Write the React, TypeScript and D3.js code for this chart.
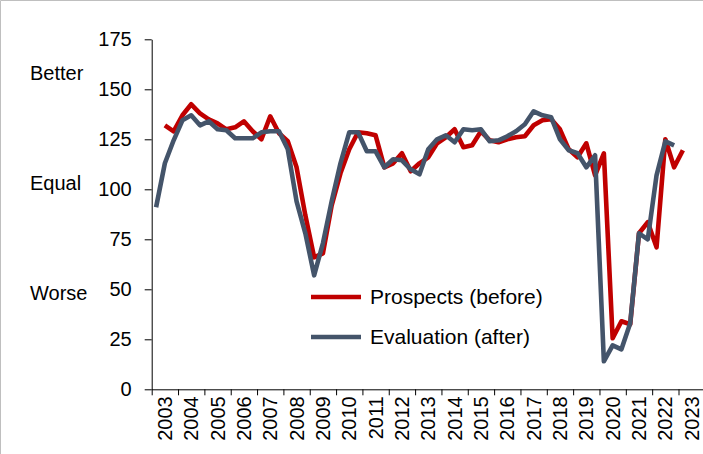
import React, { useEffect, useRef } from 'react';
import * as d3 from 'd3';

// three surveys a year, 2003..2023
const years = d3.range(2003, 2024).map(String);
const yTicks = [0, 25, 50, 75, 100, 125, 150, 175];
const sideLabels = [
  { text: 'Better', value: 158 },
  { text: 'Equal', value: 103 },
  { text: 'Worse', value: 48 },
];

// Evaluation (after): starts in the first survey of 2003
const evaluation = [
  91, 113, 124.5, 134.5, 137, 132, 134, 130, 129.5, 125.5, 125.5, 125.5,
  128.5, 129, 129, 120, 94, 78, 57, 73, 94, 113, 128.5, 128.5,
  119, 119, 111, 115, 114.5, 110, 107.5, 120, 125, 127, 123.5, 130,
  129.5, 130, 124, 124.5, 126.5, 129, 132.5, 139, 137, 136, 125, 119.5,
  118, 111, 117, 14, 22, 20, 33, 78, 75, 107, 124, 122,
];
const evaluationStart = 0;

// Prospects (before): starts in the second survey of 2003
const prospects = [
  132, 129, 137, 142.5, 138, 135, 133, 130, 131, 134, 129, 125,
  136.5, 128, 124, 111, 87, 66, 68, 92, 108, 120, 128.5, 128,
  127, 111, 113, 118, 109, 113, 116, 123, 126, 130, 121, 122,
  129, 124.5, 123.5, 125, 126, 126.5, 132, 134.5, 135, 130, 120, 116,
  123, 107, 118, 25.5, 34, 32.5, 78, 83.5, 71, 125, 111, 119.5,
];
const prospectsStart = 1;

const seriesNames = ['Prospects (before)', 'Evaluation (after)'];
const colors = ['#C00000', '#44546A'];

const width = 703;
const height = 454;
const font = '"Liberation Sans", Arial, sans-serif';

const App = () => {
  const ref = useRef<SVGSVGElement>(null);

  useEffect(() => {
    const svg = d3.select(ref.current);
    svg.selectAll('*').remove();

    const left = 151.7;
    const step = 8.78;
    const periods = years.length * 3;

    const x = d3.scaleLinear().domain([0, periods]).range([left, left + periods * step]);
    const xYear = d3.scaleBand().domain(years).range([left, left + periods * step]);
    const y = d3.scaleLinear().domain([0, 175]).range([389.3, 39.3]);

    // frame
    svg.append('path')
      .attr('d', `M0.5,${height} V0.5 H${width}`)
      .attr('fill', 'none')
      .attr('stroke', '#BFBFBF');

    // y axis
    const yAxis = svg.append('g')
      .attr('transform', `translate(${left},0)`)
      .call(d3.axisLeft(y).tickValues(yTicks).tickSize(7).tickSizeOuter(0).tickPadding(13));
    yAxis.select('.domain').attr('stroke', '#000');
    yAxis.selectAll('line').attr('stroke', '#000');
    yAxis.selectAll('text')
      .attr('font-family', font)
      .attr('font-size', 20)
      .attr('fill', '#000');

    svg.selectAll('.side')
      .data(sideLabels)
      .enter()
      .append('text')
      .attr('x', 30)
      .attr('y', d => y(d.value))
      .attr('dy', '0.35em')
      .attr('font-family', font)
      .attr('font-size', 20)
      .text(d => d.text);

    // x axis: ticks between years, labels in the middle
    const xAxis = svg.append('g')
      .attr('transform', `translate(0,${y(0)})`)
      .call(
        d3.axisBottom(x)
          .tickValues(d3.range(0, periods + 1, 3))
          .tickFormat(() => '')
          .tickSize(6)
          .tickSizeOuter(0)
      );
    xAxis.select('.domain').attr('stroke', '#000');
    xAxis.selectAll('line').attr('stroke', '#000');

    svg.append('g')
      .selectAll('text')
      .data(years)
      .enter()
      .append('text')
      .attr('transform', d => `translate(${xYear(d)! + xYear.bandwidth() / 2},${y(0) + 7}) rotate(-90)`)
      .attr('text-anchor', 'end')
      .attr('dy', '0.35em')
      .attr('font-family', font)
      .attr('font-size', 20)
      .text(d => d);

    // lines, evaluation drawn over prospects
    const line = d3.line<{ i: number; v: number }>()
      .x(d => x(d.i + 0.5))
      .y(d => y(d.v));

    const series = [
      { values: prospects, start: prospectsStart },
      { values: evaluation, start: evaluationStart },
    ];
    series.forEach((s, k) => {
      const pts = s.values.map((v, i) => ({ i: i + s.start, v }));
      svg.append('path')
        .datum(pts)
        .attr('fill', 'none')
        .attr('stroke', colors[k])
        .attr('stroke-width', 4.6)
        .attr('stroke-linejoin', 'round')
        .attr('d', line);
    });

    // legend
    const legend = svg.append('g');
    seriesNames.forEach((name, k) => {
      const ly = 297 + k * 40;
      legend.append('line')
        .attr('x1', 311).attr('x2', 361)
        .attr('y1', ly).attr('y2', ly)
        .attr('stroke', colors[k])
        .attr('stroke-width', 4.6);
      legend.append('text')
        .attr('x', 370)
        .attr('y', ly)
        .attr('dy', '0.35em')
        .attr('font-family', font)
        .attr('font-size', 21)
        .text(name);
    });
  }, []);

  return (
    <svg
      ref={ref}
      width={width}
      height={height}
      style={{ position: 'absolute', left: 0, top: 0, background: '#fff' }}
    />
  );
};

export default App;
